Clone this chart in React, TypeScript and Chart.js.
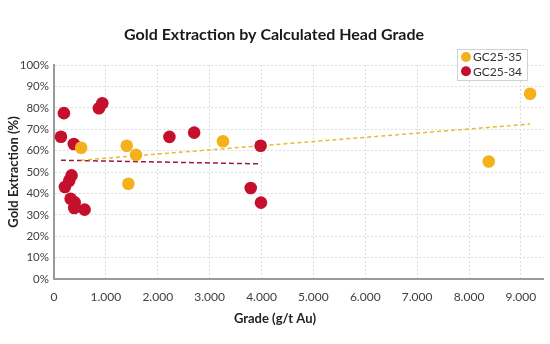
import React, { useEffect, useRef } from 'react';
import { Chart, registerables } from 'chart.js';

Chart.register(...registerables);

const chartTitle = 'Gold Extraction by Calculated Head Grade';
const xTitle = 'Grade (g/t Au)';
const yTitle = 'Gold Extraction (%)';
const seriesNames = ['GC25-35', 'GC25-34'];
const seriesColors = ['#F5B11C', '#C5102D'];
const trendColors = ['#EDB935', '#A01A35'];

// GC25-35
const gc35X = [523, 1402, 1581, 1434, 3257, 8381, 9178];
const gc35Y = [61.3, 62.3, 58.0, 44.5, 64.4, 54.9, 86.6];

// GC25-34
const gc34X = [191, 134, 382, 866, 931, 2225, 2702, 3983, 338, 293, 210, 320, 400, 390, 590, 3792, 3990];
const gc34Y = [77.5, 66.5, 63.1, 79.8, 82.1, 66.4, 68.4, 62.3, 48.4, 45.9, 43.0, 37.5, 35.8, 33.2, 32.4, 42.5, 35.7];

// trend lines (endpoints)
const trend35X = [523, 9178];
const trend35Y = [55.5, 72.4];
const trend34X = [134, 3983];
const trend34Y = [55.5, 53.8];

const xTicks = [0, 1000, 2000, 3000, 4000, 5000, 6000, 7000, 8000, 9000];
const xMin = 0;
const xMax = 9440;
const yMin = 0;
const yMax = 100;
const yStep = 10;

const toPts = (xs: number[], ys: number[]) => xs.map((x, i) => ({ x, y: ys[i] }));
const fmtThousands = (v: number) => String(v).replace(/\B(?=(\d{3})+(?!\d))/g, '.');

const overlayPlugin = {
  id: 'overlay',
  afterDraw(chart: any) {
    const ctx = chart.ctx as CanvasRenderingContext2D;
    const area = chart.chartArea;
    ctx.save();
    // x axis title centered on the canvas
    ctx.font = 'bold 13px Lato';
    ctx.fillStyle = '#222222';
    ctx.textAlign = 'center';
    ctx.textBaseline = 'middle';
    ctx.fillText(xTitle, chart.width / 2, area.bottom + 40);

    // legend box
    const bx = 457;
    const by = 49;
    const bw = 70;
    const bh = 31;
    ctx.fillStyle = '#ffffff';
    ctx.fillRect(bx, by, bw, bh);
    ctx.strokeStyle = '#d2d2d2';
    ctx.lineWidth = 1;
    ctx.strokeRect(bx + 0.5, by + 0.5, bw, bh);
    ctx.font = '12px Lato';
    ctx.textAlign = 'left';
    ctx.textBaseline = 'middle';
    for (let i = 0; i < 2; i++) {
      const ds = chart.data.datasets[i];
      const cy = by + 8 + i * 14.3;
      ctx.beginPath();
      ctx.arc(bx + 9, cy, 5, 0, Math.PI * 2);
      ctx.fillStyle = ds.backgroundColor;
      ctx.fill();
      ctx.fillStyle = '#333333';
      ctx.fillText(ds.label, bx + 16, cy + 0.5);
    }
    ctx.restore();
  },
};

export default function App() {
  const ref = useRef<HTMLCanvasElement | null>(null);

  useEffect(() => {
    document.body.style.margin = '0';
    const canvas = ref.current;
    if (!canvas) return;
    const chart = new Chart(canvas, {
      type: 'scatter',
      data: {
        datasets: [
          {
            label: seriesNames[0],
            data: toPts(gc35X, gc35Y),
            backgroundColor: seriesColors[0],
            borderColor: seriesColors[0],
            pointRadius: 6.3,
            pointBorderWidth: 0,
            showLine: false,
          },
          {
            label: seriesNames[1],
            data: toPts(gc34X, gc34Y),
            backgroundColor: seriesColors[1],
            borderColor: seriesColors[1],
            pointRadius: 6.3,
            pointBorderWidth: 0,
            showLine: false,
          },
          {
            label: 'trend35',
            data: toPts(trend35X, trend35Y),
            borderColor: trendColors[0],
            backgroundColor: trendColors[0],
            borderWidth: 1.5,
            borderDash: [4, 3],
            pointRadius: 0,
            showLine: true,
            fill: false,
          },
          {
            label: 'trend34',
            data: toPts(trend34X, trend34Y),
            borderColor: trendColors[1],
            backgroundColor: trendColors[1],
            borderWidth: 1.5,
            borderDash: [5, 3],
            pointRadius: 0,
            showLine: true,
            fill: false,
          },
        ],
      },
      options: {
        responsive: false,
        animation: false,
        devicePixelRatio: 1,
        layout: { padding: { left: 0, right: 2, top: 0, bottom: 0 } },
        plugins: {
          legend: { display: false },
          tooltip: { enabled: false },
          title: {
            display: true,
            text: chartTitle,
            color: '#1a1a1a',
            font: { family: 'Lato', size: 16, weight: 'bold' },
            padding: { top: 25, bottom: 20.8 },
          },
        },
        scales: {
          x: {
            type: 'linear',
            min: xMin,
            max: xMax,
            afterBuildTicks: (scale: any) => {
              scale.ticks = xTicks.map((v) => ({ value: v }));
            },
            afterFit: (scale: any) => {
              scale.height = 65;
            },
            ticks: {
              color: '#404040',
              font: { family: 'Lato', size: 12 },
              padding: 11,
              maxRotation: 0,
              autoSkip: false,
              callback: (v: any) => fmtThousands(Number(v)),
            },
            grid: { color: '#dddddd', lineWidth: 1, drawTicks: false },
            border: { display: true, color: '#9a9a9a', width: 2, dash: [2, 2] },
            title: { display: false },
          },
          y: {
            type: 'linear',
            min: yMin,
            max: yMax,
            afterFit: (scale: any) => {
              scale.width = 54;
            },
            ticks: {
              stepSize: yStep,
              color: '#404040',
              font: { family: 'Lato', size: 11.5 },
              padding: 5,
              callback: (v: any) => `${v}%`,
            },
            grid: { color: '#dddddd', lineWidth: 1, drawTicks: false },
            border: { display: true, color: '#9a9a9a', width: 2, dash: [2, 2] },
            title: {
              display: true,
              text: yTitle,
              color: '#222222',
              font: { family: 'Lato', size: 13, weight: 'bold' },
              padding: { top: 6, bottom: 0 },
            },
          },
        },
      },
      plugins: [overlayPlugin],
    });
    return () => chart.destroy();
  }, []);

  return (
    <div style={{ width: 550, height: 344, background: '#ffffff' }}>
      <canvas ref={ref} width={550} height={344} style={{ display: 'block' }} />
    </div>
  );
}
